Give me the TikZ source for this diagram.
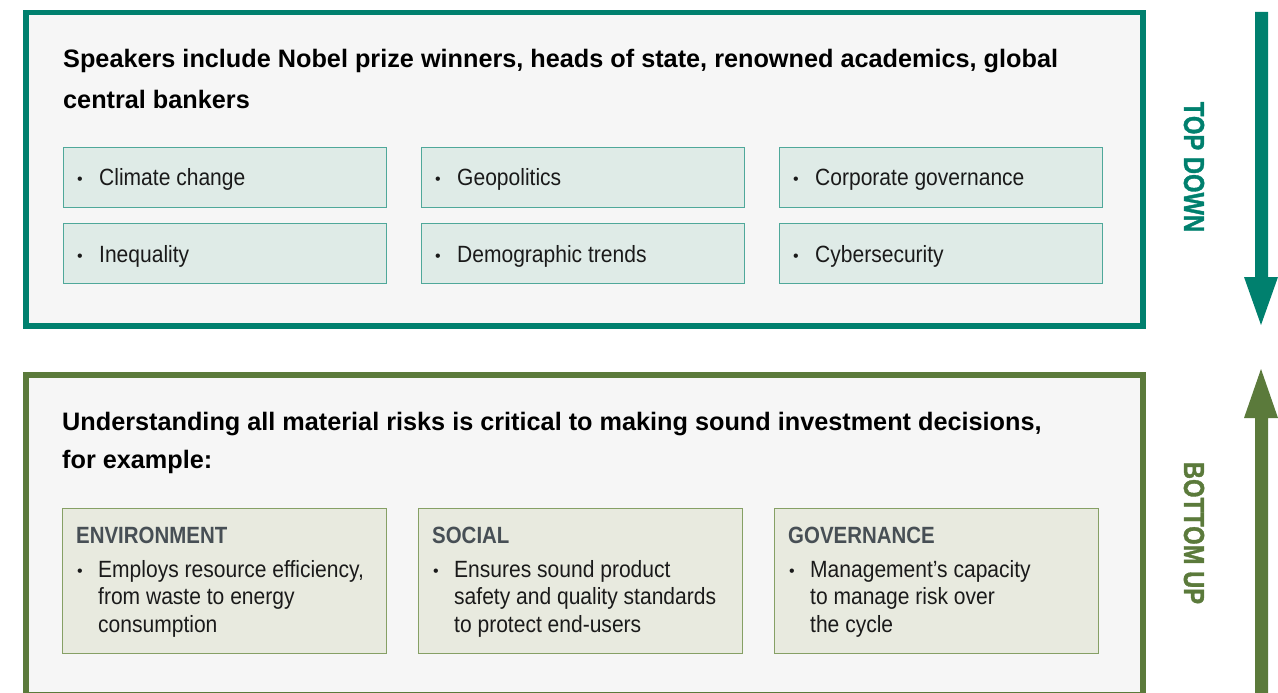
\documentclass[tikz,border=0pt]{standalone}
\usepackage{fontspec}
\setmainfont{Liberation Sans}
\newfontfamily\condfont[FakeStretch=0.895]{Liberation Sans}
\newfontfamily\condbold[FakeStretch=0.87]{Liberation Sans Bold}
\newfontfamily\sidefont[FakeStretch=0.82,FakeBold=1.2]{Liberation Sans Bold}
\definecolor{teal}{HTML}{00806E}
\definecolor{olive}{HTML}{5B7A3B}
\definecolor{panel}{HTML}{F6F6F6}
\definecolor{tealbox}{HTML}{DFEBE7}
\definecolor{tealedge}{HTML}{4FA89A}
\definecolor{olivebox}{HTML}{E8EADF}
\definecolor{oliveedge}{HTML}{86A065}
\definecolor{titlegrey}{HTML}{474F55}
\definecolor{textcol}{HTML}{1A1A1A}
\tikzset{
  heading/.style={anchor=base west, inner sep=0, align=left, text=black,
    font=\fontsize{25.25}{40}\selectfont\bfseries},
  topitem/.style={draw=tealedge, fill=tealbox, line width=1pt, anchor=north west,
    minimum width=323pt, minimum height=60pt, inner sep=0},
  botitem/.style={draw=oliveedge, fill=olivebox, line width=1pt, anchor=north west,
    minimum width=324pt, minimum height=145pt, inner sep=0},
  itemtext/.style={anchor=base west, inner sep=0, align=left, text=textcol,
    font=\condfont\fontsize{23.5}{27.5}\selectfont},
  bul/.style={anchor=base west, inner sep=0, text=textcol, font=\fontsize{16}{16}\selectfont},
  cattitle/.style={anchor=base west, inner sep=0, text=titlegrey,
    font=\condbold\fontsize{23.5}{24}\selectfont},
  sidelabel/.style={rotate=-90, inner sep=0, font=\sidefont\fontsize{29}{30}\selectfont},
}
\begin{document}
\begin{tikzpicture}[x=1pt,y=-1pt]
\useasboundingbox (0,0) rectangle (1278,693);
% top panel
\node[draw=teal, line width=5.5pt, fill=panel, anchor=north west, inner sep=0,
  minimum width=1117pt, minimum height=313pt] (toppanel) at (23,10) {};
\node[heading] (toph) at (63,108) {Speakers include Nobel prize winners, heads of state, renowned academics, global\\central bankers};
\node[topitem] (t1) at (63,147) {};
\node[topitem] (t2) at (421,147) {};
\node[topitem] (t3) at (779,147) {};
\node[topitem] (t4) at (63,223) {};
\node[topitem] (t5) at (421,223) {};
\node[topitem] (t6) at (779,223) {};
\foreach \n/\x/\y/\t in {a1/63/185/Climate change, a2/421/185/Geopolitics, a3/779/185/Corporate governance,
  a4/63/262/Inequality, a5/421/262/Demographic trends, a6/779/262/Cybersecurity}{
  \node[bul] (b\n) at (\x+14,\y-1) {\textbullet};
  \node[itemtext] (\n) at (\x+36,\y) {\t};
}
% bottom panel
\node[draw=olive, line width=5.5pt, fill=panel, anchor=north west, inner sep=0,
  minimum width=1117pt, minimum height=320pt] (botpanel) at (23,372) {};
\node[heading] (both) at (62,468) {Understanding all material risks is critical to making sound investment decisions,\\[-2pt]for example:};
\node[botitem] (env) at (62,508) {};
\node[botitem] (soc) at (418,508) {};
\node[botitem] (gov) at (774,508) {};
\node[cattitle] (envt) at (76,543) {ENVIRONMENT};
\node[cattitle] (soct) at (432,543) {SOCIAL};
\node[cattitle] (govt) at (788,543) {GOVERNANCE};
\node[bul] (envb) at (77,576) {\textbullet};
\node[bul] (socb) at (433,576) {\textbullet};
\node[bul] (govb) at (789,576) {\textbullet};
\node[itemtext] (envx) at (98,632) {Employs resource efficiency,\\from waste to energy\\consumption};
\node[itemtext] (socx) at (454,632) {Ensures sound product\\safety and quality standards\\to protect end-users};
\node[itemtext] (govx) at (810,632) {Management’s capacity\\to manage risk over\\the cycle};
% side arrows
\fill[teal] (1255,12) -- (1268,12) -- (1268,277) -- (1278,277) -- (1261,325) -- (1244,277) -- (1255,277) -- cycle;
\fill[olive] (1255,693) -- (1268,693) -- (1268,418) -- (1278,418) -- (1261,369) -- (1244,418) -- (1255,418) -- cycle;
\node[sidelabel, text=teal] (topdown) at (1194,167) {TOP DOWN};
\node[sidelabel, text=olive] (bottomup) at (1194,533) {BOTTOM UP};
\end{tikzpicture}
\end{document}
